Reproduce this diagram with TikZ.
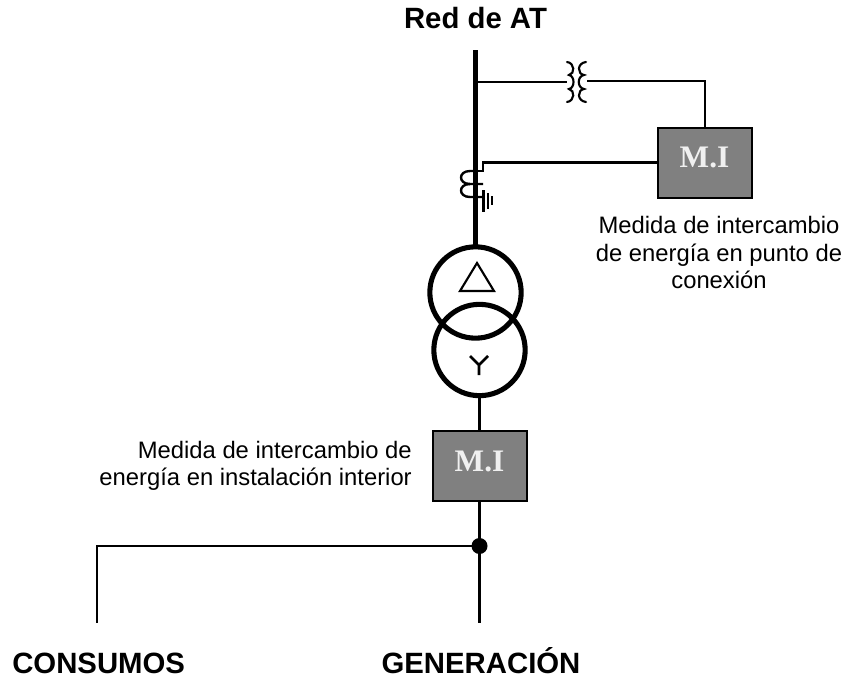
\documentclass[tikz,border=0pt]{standalone}
\usepackage{fontspec}
\setmainfont{Liberation Sans}
\newfontfamily\serifb{Liberation Serif}
\begin{document}
\begin{tikzpicture}[x=0.75pt,y=-0.75pt,
 wire/.style={draw=black,line width=2.1pt,line cap=butt},
 thin wire/.style={draw=black,line width=1.6pt},
 heavy/.style={draw=black,line width=3.8pt},
 coil/.style={draw=black,line width=1.6pt,line cap=round},
 mibox/.style={draw=black,line width=1.5pt,fill=black!50,minimum width=70.5pt,minimum height=52.5pt,inner sep=0pt},
 mitext/.style={text=black!6,font=\serifb\bfseries\fontsize{23.5}{26}\selectfont,inner sep=0pt,anchor=base},
 lbl/.style={font=\fontsize{17.85}{20.6}\selectfont,align=center,inner sep=0pt},
 title/.style={font=\bfseries\fontsize{22}{26}\selectfont,inner sep=0pt,anchor=base},
 ring/.style={draw=black,line width=3.8pt,circle,minimum size=68.5pt,inner sep=0pt}]
\useasboundingbox (0,0) rectangle (849,678);
\coordinate (top) at (475.5,50);
\coordinate (ringtop) at (475.5,246);
\coordinate (tapA) at (475.5,82);
\coordinate (cA) at (567,82);
\coordinate (cB) at (587,81);
\coordinate (corner) at (705,81);
\coordinate (tapB) at (483,162.5);
\coordinate (feed) at (479.5,623);
\coordinate (cons) at (97,623);
\coordinate (consc) at (97,546);
\node[ring] (up) at (475.5,292.5) {};
\node[ring] (low) at (479.5,350) {};
\node[mibox] (m1) at (704.5,162.5) {};
\node[mibox] (m2) at (479.5,465.5) {};
\node[mitext] (m1t) at (704.5,167) {M.I};
\node[mitext] (m2t) at (479.5,471) {M.I};
\node[circle,fill=black,minimum size=12pt,inner sep=0pt] (dot) at (479.5,546) {};
\draw[heavy] (top) -- (ringtop);
\draw[thin wire] (tapA) -- (cA);
% voltage transformer coils
\draw[coil] (567,62) .. controls (575,63) and (575,74) .. (569,75) .. controls (575,76) and (575,88) .. (569,89) .. controls (575,90) and (575,101) .. (567,102);
\draw[coil] (586,62) .. controls (577,63) and (577,74) .. (584,75) .. controls (577,76) and (577,88) .. (584,89) .. controls (577,90) and (577,101) .. (586,102);
\draw[wire] (cB) -- (corner) -- (m1.north -| corner);
\draw[wire] (m1.west) -- (tapB) -- ++(0,8.5) -- ++(-13,0);
% current transformer coil
\draw[line width=1.8pt] (475,171) -- (470,171) .. controls (458,171) and (458,184) .. (470,184) -- (483,184);
\draw[line width=1.8pt] (470,184) .. controls (458,184) and (458,197) .. (470,197) -- (483,197);
% earth
\draw[line width=2pt] (483.5,190) -- (483.5,212);
\draw[line width=2pt] (488,193) -- (488,209);
\draw[line width=2pt] (492,196) -- (492,205);
% winding symbols
\draw[line width=1.6pt,line join=miter] (477,263) -- (494,291) -- (460,291) -- cycle;
\draw[line width=1.9pt] (470,356) -- (479,365) -- (488,356) (479,365) -- (479,375);
\draw[line width=2.2pt] (low.south) -- (m2.north);
\draw[line width=2.2pt] (m2.south) -- (feed);
\draw[thin wire] (dot.center) -- (consc) -- (cons);
\node[title] (t1) at (475.5,28) {Red de AT};
\node[title,anchor=base west] (t2) at (12,673) {CONSUMOS};
\node[title] (t3) at (481,673) {GENERACIÓN};
\node[lbl] (l1) at (719,252.5) {Medida de intercambio\\de energía en punto de\\conexión};
\node[lbl,align=right,anchor=east] (l2) at (412,466) {Medida de intercambio de\\energía en instalación interior};
\end{tikzpicture}
\end{document}
